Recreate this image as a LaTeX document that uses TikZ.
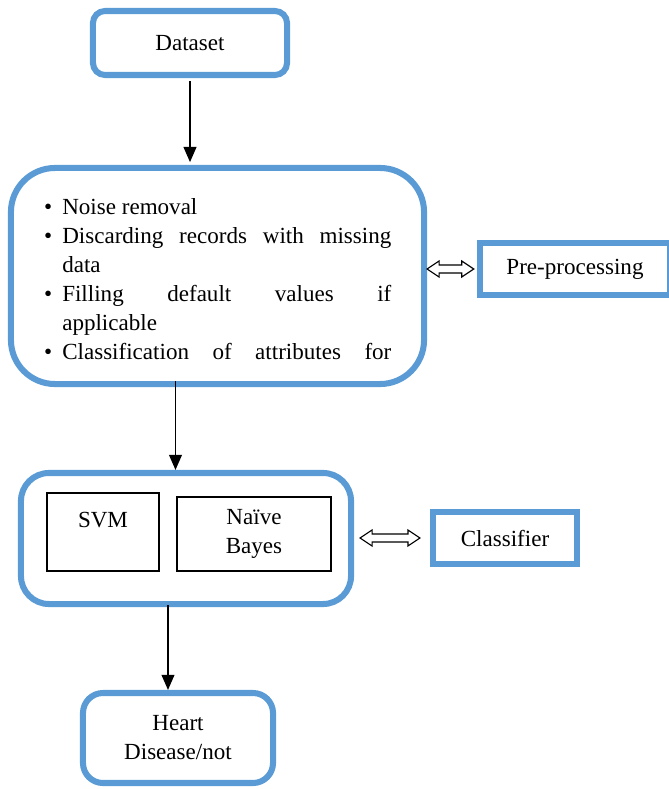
\documentclass[tikz,border=0pt]{standalone}
\usepackage{fontspec}
\setmainfont{Liberation Serif}
\usetikzlibrary{arrows.meta}
\definecolor{boxblue}{RGB}{91,155,213}
\tikzset{
  roundbox/.style={draw=boxblue,line width=4.3pt,rounded corners=0.3cm,align=center,inner sep=0pt},
  labelbox/.style={draw=boxblue,line width=4.3pt,align=center,inner sep=0pt},
  algbox/.style={draw,line width=1.1pt,align=center,inner sep=0pt},
  flow/.style={-{Triangle[length=0.38cm,width=0.32cm]},line width=1.2pt},
  link/.style={draw,fill=white,line width=0.8pt,line join=miter}
}
\newcommand{\bulitem}{\leavevmode\llap{\textbullet\hspace{0.25cm}}}
% hollow two-headed block arrow between two points
\newcommand{\dblarrow}[2]{%
  \path[link] (#1) -- ([shift={(0.3cm,0.2cm)}]#1) -- ([shift={(0.3cm,0.1cm)}]#1)
    -- ([shift={(-0.3cm,0.1cm)}]#2) -- ([shift={(-0.3cm,0.2cm)}]#2) -- (#2)
    -- ([shift={(-0.3cm,-0.2cm)}]#2) -- ([shift={(-0.3cm,-0.1cm)}]#2)
    -- ([shift={(0.3cm,-0.1cm)}]#1) -- ([shift={(0.3cm,-0.2cm)}]#1) -- cycle;}

\begin{document}
\begin{tikzpicture}[x=0.025cm,y=-0.025cm,
  every node/.style={font=\fontsize{16.4}{20.6}\selectfont}]
\useasboundingbox (0,0) rectangle (669,789);

\node[roundbox,minimum width=4.85cm,minimum height=1.6cm] (dataset) at (190,43) {Dataset};

% pre-processing steps
\node[roundbox,rounded corners=1.1cm,minimum width=10.325cm,minimum height=5.4cm] (prep) at (217.5,276) {};
\node[anchor=north west,text width=8.225cm,align=justify,inner sep=0pt] (steps) at (62,198)
{\bulitem Noise removal\par
 \bulitem Discarding records with missing\linebreak data\par
 \bulitem Filling default values if\linebreak applicable\par
 \bulitem Classification\hfill of\hfill attributes\hfill for};
\node[labelbox,minimum width=4.75cm,minimum height=1.3cm] (prelabel) at (575,269) {Pre-processing};

% classifiers
\node[roundbox,rounded corners=0.7cm,minimum width=8.25cm,minimum height=3.275cm] (models) at (186,538.5) {};
\node[algbox,minimum width=2.8cm,text height=0.85cm,text depth=1.1cm] (svm) at (103,532) {SVM};
\node[algbox,minimum width=3.85cm,minimum height=1.85cm] (bayes) at (254,534) {Naïve\\Bayes};
\node[labelbox,minimum width=3.6cm,minimum height=1.3cm] (clslabel) at (505,538) {Classifier};

\node[roundbox,rounded corners=0.5cm,minimum width=4.75cm,minimum height=2.25cm] (heart) at (178,738) {Heart\\Disease/not};

\draw[flow,shorten <=2pt,shorten >=2pt] (dataset.south) -- (dataset.south |- prep.north);
\draw[flow,shorten <=-0.15cm] ([xshift=-1.05cm]prep.south) -- ([xshift=-1.05cm]prep.south |- models.north);
\draw[flow,shorten <=-0.05cm] ([xshift=-0.45cm]models.south) -- ([xshift=-0.45cm]models.south |- heart.north);

\coordinate (pa) at (prep.east |- prelabel.west);
\coordinate (pb) at ([xshift=-0.08cm]prelabel.west);
\coordinate (ca) at ([xshift=0.15cm]models.east |- clslabel.west);
\coordinate (cb) at ([xshift=-0.25cm]clslabel.west);
\dblarrow{pa}{pb}
\dblarrow{ca}{cb}
\end{tikzpicture}
\end{document}
